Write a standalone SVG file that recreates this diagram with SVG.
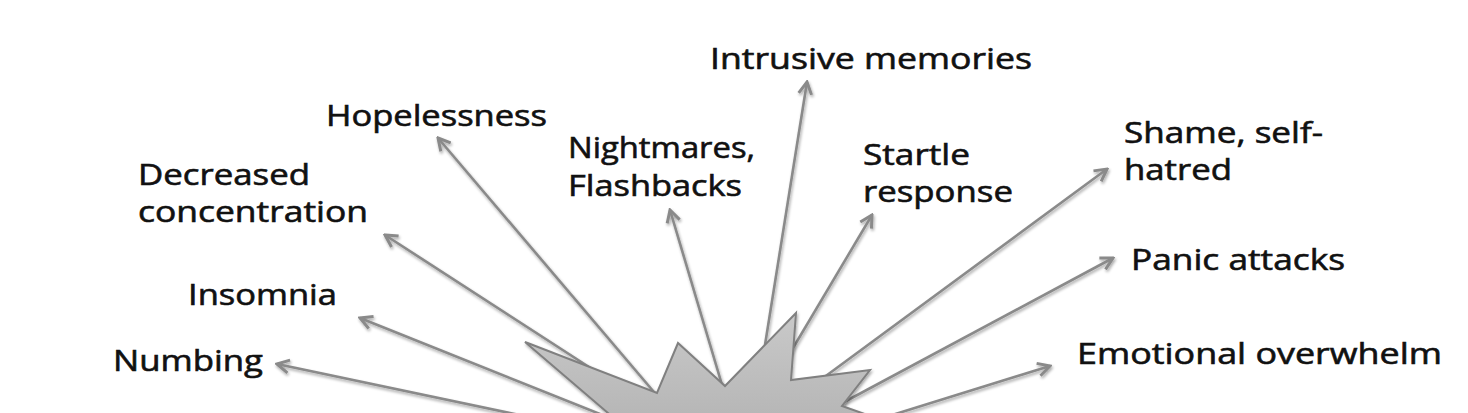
<svg xmlns="http://www.w3.org/2000/svg" width="1468" height="413" viewBox="0 0 1468 413">
<style>
.lbl{font-family:"Open Sans","Liberation Sans",sans-serif;font-size:29px;fill:#111111;stroke:#111111;stroke-width:0.6px;}
.ln{stroke:#8a8a8a;stroke-width:2.6;fill:none;marker-end:url(#arr);}
</style>
<defs>
<marker id="arr" viewBox="0 0 16 16" refX="14" refY="8" markerWidth="16" markerHeight="16" markerUnits="userSpaceOnUse" orient="auto">
<path d="M2,1.5 L14,8 L2,14.5" fill="none" stroke="#8a8a8a" stroke-width="3" stroke-linejoin="miter"/>
</marker>
<linearGradient id="sg" x1="0" y1="0" x2="0" y2="1">
<stop offset="0" stop-color="#c9c9c9"/>
<stop offset="1" stop-color="#b4b4b4"/>
</linearGradient>
<filter id="sh" x="-10%" y="-10%" width="120%" height="120%">
<feGaussianBlur in="SourceAlpha" stdDeviation="1.5"/>
<feOffset dx="1" dy="1.5" result="b"/>
<feComponentTransfer><feFuncA type="linear" slope="0.35"/></feComponentTransfer>
<feMerge><feMergeNode/><feMergeNode in="SourceGraphic"/></feMerge>
</filter>
</defs>
<rect width="1468" height="413" fill="#ffffff"/>
<g id="connectors" filter="url(#sh)">
<path class="ln" d="M757,395 L807,82"/>
<path class="ln" d="M665,405 L438,138"/>
<path class="ln" d="M728,405 L670,210"/>
<path class="ln" d="M780,370 L872,215"/>
<path class="ln" d="M800,395 L1107,169"/>
<path class="ln" d="M820,415 L1113,258"/>
<path class="ln" d="M860,425 L1050,366"/>
<path class="ln" d="M640,400 L385,235"/>
<path class="ln" d="M640,430 L360,318"/>
<path class="ln" d="M600,432 L277,364"/>
</g>
<g id="star" filter="url(#sh)">
<polygon points="525,342 657,393 678,343 725,386 796,313 791,380 870,370 842,406 910,430 622,425" fill="url(#sg)" stroke="#808080" stroke-width="2" stroke-linejoin="miter"/>
</g>
<g id="intrusive"><text class="lbl" x="710" y="69" textLength="322" lengthAdjust="spacingAndGlyphs">Intrusive memories</text></g>
<g id="hopelessness"><text class="lbl" x="326" y="126" textLength="221" lengthAdjust="spacingAndGlyphs">Hopelessness</text></g>
<g id="nightmares"><text class="lbl" x="568" y="158" textLength="187" lengthAdjust="spacingAndGlyphs">Nightmares,</text><text class="lbl" x="568" y="196" textLength="174" lengthAdjust="spacingAndGlyphs">Flashbacks</text></g>
<g id="startle"><text class="lbl" x="863" y="165" textLength="107" lengthAdjust="spacingAndGlyphs">Startle</text><text class="lbl" x="863" y="202" textLength="150" lengthAdjust="spacingAndGlyphs">response</text></g>
<g id="shame"><text class="lbl" x="1124" y="143" textLength="199" lengthAdjust="spacingAndGlyphs">Shame, self-</text><text class="lbl" x="1124" y="180" textLength="108" lengthAdjust="spacingAndGlyphs">hatred</text></g>
<g id="decreased"><text class="lbl" x="138" y="185" textLength="172" lengthAdjust="spacingAndGlyphs">Decreased</text><text class="lbl" x="138" y="222" textLength="230" lengthAdjust="spacingAndGlyphs">concentration</text></g>
<g id="insomnia"><text class="lbl" x="188" y="305" textLength="149" lengthAdjust="spacingAndGlyphs">Insomnia</text></g>
<g id="panic"><text class="lbl" x="1131" y="270" textLength="214" lengthAdjust="spacingAndGlyphs">Panic attacks</text></g>
<g id="numbing"><text class="lbl" x="113" y="371" textLength="150" lengthAdjust="spacingAndGlyphs">Numbing</text></g>
<g id="emotional"><text class="lbl" x="1077" y="364" textLength="365" lengthAdjust="spacingAndGlyphs">Emotional overwhelm</text></g>
</svg>
